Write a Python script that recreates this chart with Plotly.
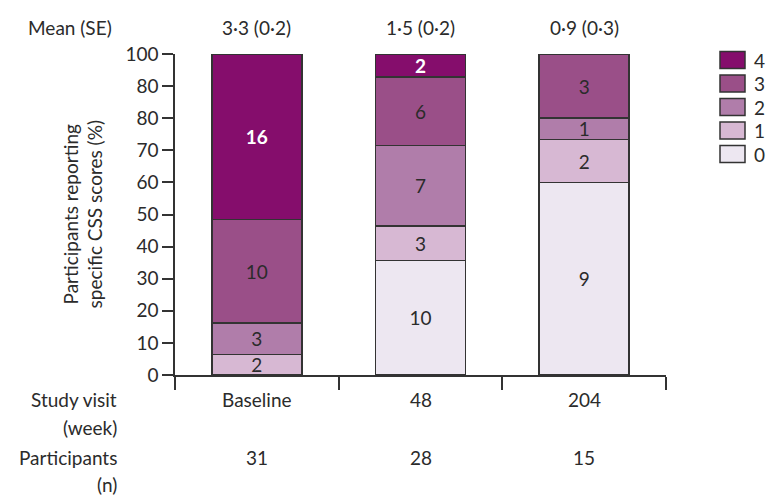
import plotly.graph_objects as go

# Study visits and participant numbers
visits = ["Baseline", "48", "204"]
participants = [31, 28, 15]
mean_se = ["3·3 (0·2)", "1·5 (0·2)", "0·9 (0·3)"]

# Number of participants reporting each CSS score at each visit
scores = ["0", "1", "2", "3", "4"]
counts_0 = [0, 10, 9]
counts_1 = [2, 3, 2]
counts_2 = [3, 7, 1]
counts_3 = [10, 6, 3]
counts_4 = [16, 2, 0]
counts = [counts_0, counts_1, counts_2, counts_3, counts_4]

colors = ["#EDE7F1", "#D7B8D3", "#B07DAA", "#9A4F88", "#850D6C"]
label_colors = ["#2b2b2b", "#2b2b2b", "#2b2b2b", "#2b2b2b", "#ffffff"]

y_tickvals = [0, 10, 20, 30, 40, 50, 60, 70, 80, 90, 100]
y_ticktext = ["0", "10", "20", "30", "40", "50", "60", "70", "80", "80", "100"]

FONT = "Lato, 'Open Sans', sans-serif"
TXT = "#2b2b2b"
FS = 19

xpos = [0.5, 1.5, 2.5]

fig = go.Figure()
for s, c, col, lc in zip(scores, counts, colors, label_colors):
    pct = [v / n * 100 for v, n in zip(c, participants)]
    fig.add_trace(go.Bar(
        x=xpos, y=pct, name=s, width=0.55,
        marker=dict(color=col, line=dict(color="#333333", width=1.5)),
        text=[str(v) if v > 0 else "" for v in c],
        textposition="inside", insidetextanchor="middle", textangle=0,
        textfont=dict(family=FONT, size=FS, color=lc,
                      weight="bold" if s == "4" else "normal"),
        showlegend=False, hoverinfo="skip",
    ))

fig.update_layout(
    barmode="stack",
    width=771, height=498,
    margin=dict(l=175, r=105, t=54, b=123),
    plot_bgcolor="white", paper_bgcolor="white",
    font=dict(family=FONT, size=FS, color=TXT),
    uniformtext=dict(minsize=FS, mode="show"),
    xaxis=dict(range=[0, 3], tickvals=[0, 1, 2, 3], ticktext=["", "", "", ""],
               ticks="outside", ticklen=13, tickwidth=1.5, tickcolor="#333333",
               showline=True, linecolor="#333333", linewidth=1.5,
               showgrid=False, zeroline=False, fixedrange=True),
    yaxis=dict(range=[0, 100], tickvals=y_tickvals, ticktext=y_ticktext,
               ticks="outside", ticklen=11, tickwidth=1.5, tickcolor="#333333",
               showline=True, linecolor="#333333", linewidth=1.5,
               showgrid=False, zeroline=False, fixedrange=True,
               tickfont=dict(size=FS, color=TXT)),
)

# y-axis line continues a little below the zero line
fig.add_shape(type="line", xref="paper", yref="paper", x0=0, x1=0,
              y0=0, y1=-13 / 321, line=dict(color="#333333", width=1.5))

# y-axis title
fig.add_annotation(xref="paper", yref="paper", x=(82 - 175) / 491, y=0.5,
                   xanchor="center", yanchor="middle",
                   text="Participants reporting<br>specific CSS scores (%)",
                   textangle=-90, showarrow=False,
                   font=dict(size=19, color=TXT))

# Row labels above and below the bars
fig.add_annotation(xref="paper", yref="paper", x=(26 - 175) / 491, xanchor="left",
                   y=(375 - 27) / 321, yanchor="middle",
                   text="Mean (SE)", showarrow=False, font=dict(size=FS, color=TXT))
row_labels = [("Study visit", 399), ("(week)", 428), ("Participants", 457), ("(n)", 484)]
for txt, ypx in row_labels:
    fig.add_annotation(xref="paper", yref="paper", x=(119 - 175) / 491, xanchor="right",
                       y=(375 - ypx) / 321, yanchor="middle", text=txt,
                       showarrow=False, font=dict(size=FS, color=TXT))

for xp, m, v, n in zip(xpos, mean_se, visits, participants):
    fig.add_annotation(x=xp, xref="x", yref="paper", y=(375 - 27) / 321,
                       yanchor="middle", text=m, showarrow=False)
    fig.add_annotation(x=xp, xref="x", yref="paper", y=(375 - 399) / 321,
                       yanchor="middle", text=v, showarrow=False)
    fig.add_annotation(x=xp, xref="x", yref="paper", y=(375 - 457) / 321,
                       yanchor="middle", text=str(n), showarrow=False)

# Legend: score boxes, highest score on top
leg_x0, leg_x1 = 720, 745
for i, (s, col) in enumerate(zip(scores[::-1], colors[::-1])):
    yc = 60 + i * 23.5
    fig.add_shape(type="rect", xref="paper", yref="paper",
                  x0=(leg_x0 - 175) / 491, x1=(leg_x1 - 175) / 491,
                  y0=(375 - (yc - 8.5)) / 321, y1=(375 - (yc + 8.5)) / 321,
                  fillcolor=col, line=dict(color="#333333", width=1.5))
    fig.add_annotation(xref="paper", yref="paper", x=(752 - 175) / 491,
                       xanchor="left", y=(375 - yc) / 321, yanchor="middle",
                       text=s, showarrow=False, font=dict(size=FS, color=TXT))

fig.write_html("out.html")
